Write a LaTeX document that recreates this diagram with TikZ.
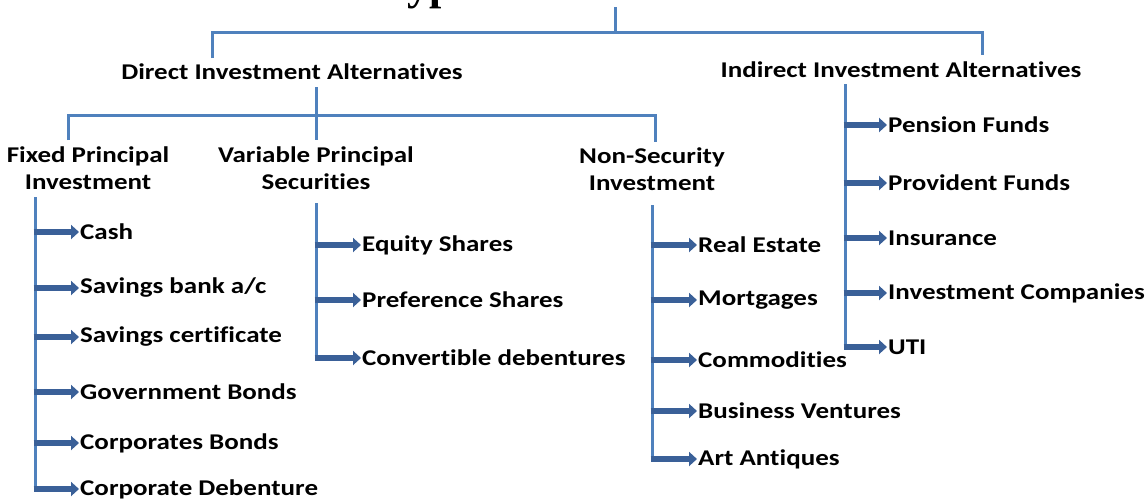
\documentclass[tikz,border=0pt]{standalone}
\usepackage{fontspec}
\setmainfont[Ligatures=NoCommon, FakeStretch=1.2]{Carlito}
\newfontfamily\titlefont{Liberation Serif}
\usetikzlibrary{arrows.meta}
\definecolor{lineblue}{RGB}{79,129,189}
\definecolor{arrowblue}{RGB}{58,96,152}
\begin{document}
\begin{tikzpicture}[x=1pt,y=-1pt,
  conn/.style={draw=lineblue, line width=3pt},
  arr/.style={draw=arrowblue, line width=6.5pt, -{Triangle[length=8pt,width=14pt]}},
  hdr/.style={font=\bfseries\fontsize{22.5}{27}\selectfont, align=center, inner sep=0pt},
  item/.style={font=\bfseries\fontsize{22.5}{24}\selectfont, anchor=west, inner sep=1pt},
  ttl/.style={font=\titlefont\bfseries\fontsize{44}{44}\selectfont, anchor=base west, inner sep=0pt}
]
\useasboundingbox (0,0) rectangle (1148,499);

% title (mostly cut off)
\node[ttl] (title) at (381,-1) {Types of Investment};

% level 1
\node[hdr] (direct) at (292,72) {Direct Investment Alternatives};
\node[hdr] (indirect) at (901,70) {Indirect Investment Alternatives};
\coordinate (top) at (615,7);
\coordinate (topj) at (615,32);
\coordinate (dl) at (212,32);
\coordinate (dr) at (982,32);
\coordinate (dle) at (212,58);
\coordinate (dre) at (982,55);
\draw[conn] (top) -- (topj);
\draw[conn] (dle) -- (dl) -- (dr) -- (dre);

% level 2
\node[hdr] (fixed) at (88,168) {Fixed Principal\\Investment};
\node[hdr] (variable) at (316,168) {Variable Principal\\Securities};
\node[hdr] (nonsec) at (652,169) {Non-Security\\Investment};
\coordinate (ds) at (316,87);
\coordinate (dj) at (316,115);
\coordinate (hl) at (68,115);
\coordinate (hr) at (655,115);
\coordinate (fe) at (68,140);
\coordinate (ve) at (316,140);
\coordinate (ne) at (655,142);
\draw[conn] (ds) -- (dj);
\draw[conn] (fe) -- (hl) -- (hr) -- (ne);
\draw[conn] (dj) -- (ve);

% fixed principal items
\coordinate (fs) at (35,197);
\coordinate (fb) at (35,490);
\draw[conn] (fs) -- (fb);
\foreach \n/\y/\t in {f1/232/{Cash}, f2/288/{Savings bank a/c}, f3/337/{Savings certificate}, f4/392/{Government Bonds}, f5/443/{Corporates Bonds}, f6/489/{Corporate Debenture}}{
  \coordinate (\n s) at (33.5,\y);
  \node[item] (\n) at (79,\y) {\t};
  \draw[arr] (\n s) -- (\n.west);
}

% variable principal items
\coordinate (vs) at (316,203);
\coordinate (vb) at (316,359);
\draw[conn] (vs) -- (vb);
\foreach \n/\y/\t in {v1/245/{Equity Shares}, v2/300/{Preference Shares}, v3/358/{Convertible debentures}}{
  \coordinate (\n s) at (314.5,\y);
  \node[item] (\n) at (361,\y) {\t};
  \draw[arr] (\n s) -- (\n.west);
}

% non-security items
\coordinate (ns) at (652,205);
\coordinate (nb) at (652,460);
\draw[conn] (ns) -- (nb);
\foreach \n/\y/\t in {n1/245/{Real Estate}, n2/300/{Mortgages}, n3/360/{Commodities}, n4/411/{Business Ventures}, n5/459/{Art Antiques}}{
  \coordinate (\n s) at (650.5,\y);
  \node[item] (\n) at (697,\y) {\t};
  \draw[arr] (\n s) -- (\n.west);
}

% indirect items
\coordinate (is) at (845,84);
\coordinate (ib) at (845,347);
\draw[conn] (is) -- (ib);
\foreach \n/\y/\t in {i1/125/{Pension Funds}, i2/183/{Provident Funds}, i3/238/{Insurance}, i4/293/{Investment Companies}, i5/347/{UTI}}{
  \coordinate (\n s) at (843.5,\y);
  \node[item] (\n) at (887,\y) {\t};
  \draw[arr] (\n s) -- (\n.west);
}
\end{tikzpicture}
\end{document}
